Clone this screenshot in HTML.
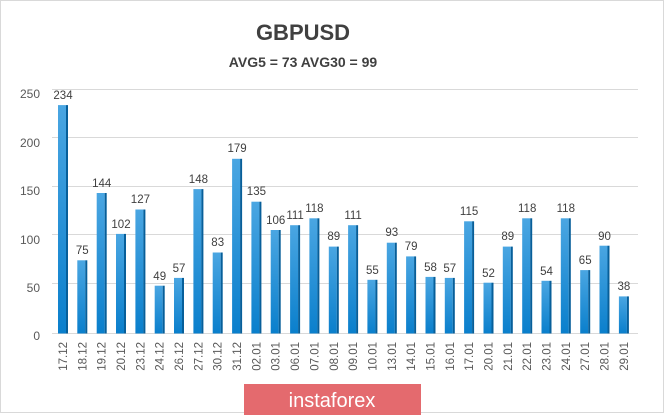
<!DOCTYPE html>
<html><head><meta charset="utf-8"><style>
html,body{margin:0;padding:0;background:#fff;}
svg{display:block;font-family:"Liberation Sans",sans-serif;}
</style></head><body>
<svg width="665" height="415" viewBox="0 0 665 415" xmlns="http://www.w3.org/2000/svg">
<defs>
<linearGradient id="g" x1="0" y1="0" x2="0" y2="1">
<stop offset="0" stop-color="#4aa6e2"/><stop offset="1" stop-color="#0a7fcc"/>
</linearGradient>
</defs>
<rect x="0.5" y="0.5" width="663" height="412" fill="#fff" stroke="#d9d9d9"/>
<text x="303" y="40" font-size="22" font-weight="bold" fill="#404040" text-anchor="middle">GBPUSD</text>
<text x="303" y="67" font-size="14" font-weight="bold" fill="#404040" text-anchor="middle">AVG5 = 73 AVG30 = 99</text>
<g stroke="#d9d9d9" stroke-width="1">
<line x1="52" y1="89.5" x2="638" y2="89.5"/>
<line x1="52" y1="137.5" x2="638" y2="137.5"/>
<line x1="52" y1="186.5" x2="638" y2="186.5"/>
<line x1="52" y1="234.5" x2="638" y2="234.5"/>
<line x1="52" y1="283.5" x2="638" y2="283.5"/>
<line x1="52" y1="333.5" x2="638" y2="333.5"/>
</g>
<g font-size="12" fill="#595959" text-anchor="end">
<text x="40" y="98">250</text><text x="40" y="147">200</text><text x="40" y="195">150</text>
<text x="40" y="244">100</text><text x="40" y="292">50</text><text x="40" y="340">0</text>
</g>
<g id="bars">
<rect x="58.0" y="105.1" width="8" height="228.4" fill="url(#g)"/><rect x="66.0" y="105.1" width="2" height="228.4" fill="#075f9a"/>
<rect x="77.3" y="260.3" width="8" height="73.2" fill="url(#g)"/><rect x="85.3" y="260.3" width="2" height="73.2" fill="#075f9a"/>
<rect x="96.7" y="193.0" width="8" height="140.5" fill="url(#g)"/><rect x="104.7" y="193.0" width="2" height="140.5" fill="#075f9a"/>
<rect x="116.0" y="233.9" width="8" height="99.6" fill="url(#g)"/><rect x="124.0" y="233.9" width="2" height="99.6" fill="#075f9a"/>
<rect x="135.4" y="209.5" width="8" height="124.0" fill="url(#g)"/><rect x="143.4" y="209.5" width="2" height="124.0" fill="#075f9a"/>
<rect x="154.7" y="285.7" width="8" height="47.8" fill="url(#g)"/><rect x="162.7" y="285.7" width="2" height="47.8" fill="#075f9a"/>
<rect x="174.0" y="277.9" width="8" height="55.6" fill="url(#g)"/><rect x="182.0" y="277.9" width="2" height="55.6" fill="#075f9a"/>
<rect x="193.4" y="189.1" width="8" height="144.4" fill="url(#g)"/><rect x="201.4" y="189.1" width="2" height="144.4" fill="#075f9a"/>
<rect x="212.7" y="252.5" width="8" height="81.0" fill="url(#g)"/><rect x="220.7" y="252.5" width="2" height="81.0" fill="#075f9a"/>
<rect x="232.1" y="158.8" width="8" height="174.7" fill="url(#g)"/><rect x="240.1" y="158.8" width="2" height="174.7" fill="#075f9a"/>
<rect x="251.4" y="201.7" width="8" height="131.8" fill="url(#g)"/><rect x="259.4" y="201.7" width="2" height="131.8" fill="#075f9a"/>
<rect x="270.7" y="230.0" width="8" height="103.5" fill="url(#g)"/><rect x="278.7" y="230.0" width="2" height="103.5" fill="#075f9a"/>
<rect x="290.1" y="225.2" width="8" height="108.3" fill="url(#g)"/><rect x="298.1" y="225.2" width="2" height="108.3" fill="#075f9a"/>
<rect x="309.4" y="218.3" width="8" height="115.2" fill="url(#g)"/><rect x="317.4" y="218.3" width="2" height="115.2" fill="#075f9a"/>
<rect x="328.8" y="246.6" width="8" height="86.9" fill="url(#g)"/><rect x="336.8" y="246.6" width="2" height="86.9" fill="#075f9a"/>
<rect x="348.1" y="225.2" width="8" height="108.3" fill="url(#g)"/><rect x="356.1" y="225.2" width="2" height="108.3" fill="#075f9a"/>
<rect x="367.4" y="279.8" width="8" height="53.7" fill="url(#g)"/><rect x="375.4" y="279.8" width="2" height="53.7" fill="#075f9a"/>
<rect x="386.8" y="242.7" width="8" height="90.8" fill="url(#g)"/><rect x="394.8" y="242.7" width="2" height="90.8" fill="#075f9a"/>
<rect x="406.1" y="256.4" width="8" height="77.1" fill="url(#g)"/><rect x="414.1" y="256.4" width="2" height="77.1" fill="#075f9a"/>
<rect x="425.5" y="276.9" width="8" height="56.6" fill="url(#g)"/><rect x="433.5" y="276.9" width="2" height="56.6" fill="#075f9a"/>
<rect x="444.8" y="277.9" width="8" height="55.6" fill="url(#g)"/><rect x="452.8" y="277.9" width="2" height="55.6" fill="#075f9a"/>
<rect x="464.1" y="221.3" width="8" height="112.2" fill="url(#g)"/><rect x="472.1" y="221.3" width="2" height="112.2" fill="#075f9a"/>
<rect x="483.5" y="282.7" width="8" height="50.8" fill="url(#g)"/><rect x="491.5" y="282.7" width="2" height="50.8" fill="#075f9a"/>
<rect x="502.8" y="246.6" width="8" height="86.9" fill="url(#g)"/><rect x="510.8" y="246.6" width="2" height="86.9" fill="#075f9a"/>
<rect x="522.2" y="218.3" width="8" height="115.2" fill="url(#g)"/><rect x="530.2" y="218.3" width="2" height="115.2" fill="#075f9a"/>
<rect x="541.5" y="280.8" width="8" height="52.7" fill="url(#g)"/><rect x="549.5" y="280.8" width="2" height="52.7" fill="#075f9a"/>
<rect x="560.8" y="218.3" width="8" height="115.2" fill="url(#g)"/><rect x="568.8" y="218.3" width="2" height="115.2" fill="#075f9a"/>
<rect x="580.2" y="270.1" width="8" height="63.4" fill="url(#g)"/><rect x="588.2" y="270.1" width="2" height="63.4" fill="#075f9a"/>
<rect x="599.5" y="245.7" width="8" height="87.8" fill="url(#g)"/><rect x="607.5" y="245.7" width="2" height="87.8" fill="#075f9a"/>
<rect x="618.9" y="296.4" width="8" height="37.1" fill="url(#g)"/><rect x="626.9" y="296.4" width="2" height="37.1" fill="#075f9a"/>
</g>
<g font-size="11.5" fill="#404040" text-anchor="middle">
<text x="63.0" y="99">234</text><text x="82.3" y="254">75</text><text x="101.7" y="187">144</text>
<text x="121.0" y="228">102</text><text x="140.4" y="203">127</text><text x="159.7" y="280">49</text>
<text x="179.0" y="272">57</text><text x="198.4" y="183">148</text><text x="217.7" y="246">83</text>
<text x="237.1" y="152">179</text><text x="256.4" y="195">135</text><text x="275.7" y="224">106</text>
<text x="295.1" y="219">111</text><text x="314.4" y="212">118</text><text x="333.8" y="240">89</text>
<text x="353.1" y="219">111</text><text x="372.4" y="274">55</text><text x="391.8" y="236">93</text>
<text x="411.1" y="250">79</text><text x="430.5" y="271">58</text><text x="449.8" y="272">57</text>
<text x="469.1" y="215">115</text><text x="488.5" y="277">52</text><text x="507.8" y="240">89</text>
<text x="527.2" y="212">118</text><text x="546.5" y="275">54</text><text x="565.8" y="212">118</text>
<text x="585.2" y="264">65</text><text x="604.5" y="240">90</text><text x="623.9" y="290">38</text>
</g>
<g font-size="11.5" fill="#595959" text-anchor="end">
<text transform="translate(67.0,342) rotate(-90)">17.12</text>
<text transform="translate(86.3,342) rotate(-90)">18.12</text>
<text transform="translate(105.7,342) rotate(-90)">19.12</text>
<text transform="translate(125.0,342) rotate(-90)">20.12</text>
<text transform="translate(144.4,342) rotate(-90)">23.12</text>
<text transform="translate(163.7,342) rotate(-90)">24.12</text>
<text transform="translate(183.0,342) rotate(-90)">26.12</text>
<text transform="translate(202.4,342) rotate(-90)">27.12</text>
<text transform="translate(221.7,342) rotate(-90)">30.12</text>
<text transform="translate(241.1,342) rotate(-90)">31.12</text>
<text transform="translate(260.4,342) rotate(-90)">02.01</text>
<text transform="translate(279.7,342) rotate(-90)">03.01</text>
<text transform="translate(299.1,342) rotate(-90)">06.01</text>
<text transform="translate(318.4,342) rotate(-90)">07.01</text>
<text transform="translate(337.8,342) rotate(-90)">08.01</text>
<text transform="translate(357.1,342) rotate(-90)">09.01</text>
<text transform="translate(376.4,342) rotate(-90)">10.01</text>
<text transform="translate(395.8,342) rotate(-90)">13.01</text>
<text transform="translate(415.1,342) rotate(-90)">14.01</text>
<text transform="translate(434.5,342) rotate(-90)">15.01</text>
<text transform="translate(453.8,342) rotate(-90)">16.01</text>
<text transform="translate(473.1,342) rotate(-90)">17.01</text>
<text transform="translate(492.5,342) rotate(-90)">20.01</text>
<text transform="translate(511.8,342) rotate(-90)">21.01</text>
<text transform="translate(531.2,342) rotate(-90)">22.01</text>
<text transform="translate(550.5,342) rotate(-90)">23.01</text>
<text transform="translate(569.8,342) rotate(-90)">24.01</text>
<text transform="translate(589.2,342) rotate(-90)">27.01</text>
<text transform="translate(608.5,342) rotate(-90)">28.01</text>
<text transform="translate(627.9,342) rotate(-90)">29.01</text>
</g>
<rect x="244" y="384" width="177" height="31" fill="#e46a6e"/>
<text x="332" y="407" font-size="20" fill="#fff" text-anchor="middle">instaforex</text>
</svg>
</body></html>
